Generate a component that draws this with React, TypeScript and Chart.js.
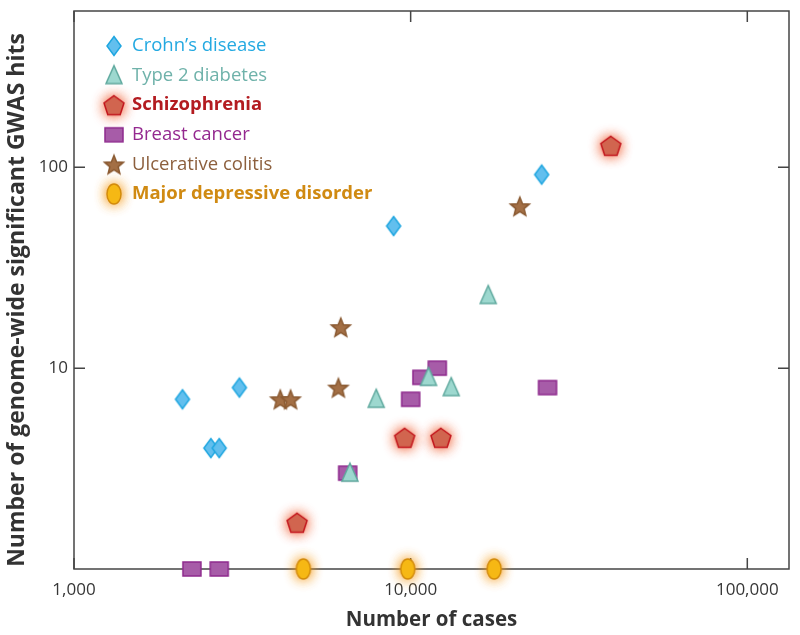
import React, { useEffect, useRef } from 'react';
import { Chart, registerables } from 'chart.js';
Chart.register(...registerables);

const FONT = "'Open Sans', 'Noto Sans', sans-serif";

const seriesNames = [
  'Crohn’s disease',
  'Type 2 diabetes',
  'Schizophrenia',
  'Breast cancer',
  'Ulcerative colitis',
  'Major depressive disorder',
];

const crohnsCases = [2100, 2550, 2700, 3100, 8900, 24500];
const crohnsHits = [7, 4, 4, 8, 51, 92];
const t2dCases = [6600, 7900, 11300, 13200, 17000];
const t2dHits = [3, 7, 9, 8, 23];
const schizoCases = [4600, 9600, 12300, 39300];
const schizoHits = [1.7, 4.5, 4.5, 128];
const breastCases = [2240, 2700, 6500, 10000, 10800, 12000, 25500];
const breastHits = [1, 1, 3, 7, 9, 10, 8];
const ucCases = [4100, 4400, 6100, 6200, 21100];
const ucHits = [7, 7, 8, 16, 64];
const mddCases = [4800, 9800, 17700];
const mddHits = [1, 1, 1];

const xTicks = [1000, 10000, 100000];
const yTicks = [10, 100];

const xTitle = 'Number of cases';
const yTitle = 'Number of genome-wide significant GWAS hits';

type Kind = 'diamond' | 'triangle' | 'pentagon' | 'square' | 'star' | 'ellipse';

const styles: Record<Kind, { fill: string; stroke: string; glow?: string; text: string; bold: boolean }> = {
  diamond: { fill: '#62bfee', stroke: '#1fa6e0', text: '#23a9e1', bold: false },
  triangle: { fill: '#9dd8cf', stroke: '#5fa99e', text: '#6fb2aa', bold: false },
  pentagon: { fill: '#d1654f', stroke: '#c3161d', glow: 'rgba(240,90,45,0.8)', text: '#b31b20', bold: true },
  square: { fill: '#a75ca8', stroke: '#8f2a8d', text: '#94288f', bold: false },
  star: { fill: '#a36f45', stroke: '#8a5a32', text: '#8c5f3d', bold: false },
  ellipse: { fill: '#f6b814', stroke: '#d28b0c', glow: 'rgba(245,150,20,0.85)', text: '#d08a12', bold: true },
};

function tracePath(ctx: CanvasRenderingContext2D, kind: Kind) {
  ctx.beginPath();
  if (kind === 'diamond') {
    ctx.moveTo(0, -9.5);
    ctx.lineTo(7, 0);
    ctx.lineTo(0, 9.5);
    ctx.lineTo(-7, 0);
    ctx.closePath();
  } else if (kind === 'triangle') {
    ctx.moveTo(0, -10);
    ctx.lineTo(8, 8);
    ctx.lineTo(-8, 8);
    ctx.closePath();
  } else if (kind === 'pentagon') {
    const r = 10.5;
    for (let i = 0; i < 5; i++) {
      const a = -Math.PI / 2 + (i * 2 * Math.PI) / 5;
      const px = r * Math.cos(a);
      const py = r * Math.sin(a) + 1;
      if (i === 0) ctx.moveTo(px, py);
      else ctx.lineTo(px, py);
    }
    ctx.closePath();
  } else if (kind === 'square') {
    ctx.rect(-9, -7, 18, 14);
  } else if (kind === 'star') {
    const ro = 10;
    const ri = 4.4;
    for (let i = 0; i < 10; i++) {
      const a = -Math.PI / 2 + (i * Math.PI) / 5;
      const r = i % 2 === 0 ? ro : ri;
      const px = r * Math.cos(a);
      const py = r * Math.sin(a) + 1;
      if (i === 0) ctx.moveTo(px, py);
      else ctx.lineTo(px, py);
    }
    ctx.closePath();
  } else {
    ctx.ellipse(0, 0, 7, 10, 0, 0, Math.PI * 2);
  }
}

function makeMarker(kind: Kind): HTMLCanvasElement {
  const size = 48;
  const c = document.createElement('canvas');
  c.width = size;
  c.height = size;
  const ctx = c.getContext('2d')!;
  ctx.translate(size / 2, size / 2);
  const st = styles[kind];
  if (st.glow) {
    ctx.save();
    ctx.shadowColor = st.glow;
    ctx.shadowBlur = 13;
    tracePath(ctx, kind);
    ctx.fillStyle = st.fill;
    ctx.fill();
    ctx.fill();
    ctx.restore();
  }
  tracePath(ctx, kind);
  ctx.fillStyle = st.fill;
  ctx.fill();
  ctx.lineWidth = 1.5;
  ctx.strokeStyle = st.stroke;
  ctx.stroke();
  return c;
}

const kinds: Kind[] = ['diamond', 'triangle', 'pentagon', 'square', 'star', 'ellipse'];

export default function App() {
  const ref = useRef<HTMLCanvasElement>(null);

  useEffect(() => {
    const markers = kinds.map((k) => makeMarker(k));
    const series = [
      [crohnsCases, crohnsHits],
      [t2dCases, t2dHits],
      [schizoCases, schizoHits],
      [breastCases, breastHits],
      [ucCases, ucHits],
      [mddCases, mddHits],
    ];
    const datasets = series.map(([xs, ys], i) => ({
      label: seriesNames[i],
      data: xs.map((x, j) => ({ x, y: ys[j] })),
      pointStyle: markers[i] as any,
      pointRadius: 10,
      pointHoverRadius: 10,
      clip: false as any,
    }));

    const framePlugin = {
      id: 'frame',
      beforeDatasetsDraw(chart: any) {
        const { ctx, chartArea: a, scales } = chart;
        ctx.save();
        ctx.strokeStyle = '#454545';
        ctx.lineWidth = 1.5;
        ctx.strokeRect(a.left, a.top, a.right - a.left, a.bottom - a.top);
        const tl = 11;
        ctx.beginPath();
        yTicks.forEach((v) => {
          const y = scales.y.getPixelForValue(v);
          ctx.moveTo(a.left, y);
          ctx.lineTo(a.left + tl, y);
          ctx.moveTo(a.right, y);
          ctx.lineTo(a.right - tl, y);
        });
        xTicks.forEach((v) => {
          const x = scales.x.getPixelForValue(v);
          ctx.moveTo(x, a.bottom);
          ctx.lineTo(x, a.bottom - tl);
          ctx.moveTo(x, a.top);
          ctx.lineTo(x, a.top + tl);
        });
        ctx.stroke();
        ctx.restore();
      },
      afterDraw(chart: any) {
        const { ctx, chartArea: a } = chart;
        ctx.save();
        ctx.translate(17, (a.top + a.bottom) / 2 + 10);
        ctx.rotate(-Math.PI / 2);
        ctx.font = `bold 23px ${FONT}`;
        ctx.fillStyle = '#333';
        ctx.textAlign = 'center';
        ctx.textBaseline = 'middle';
        ctx.fillText(yTitle, 0, 0);
        ctx.restore();
      },
    };

    const legendPlugin = {
      id: 'customLegend',
      afterDraw(chart: any) {
        const { ctx, chartArea: a } = chart;
        ctx.save();
        kinds.forEach((k, i) => {
          const cy = a.top + 35 + i * 29.6;
          const mx = a.left + 40;
          const m = markers[i];
          ctx.drawImage(m, mx - m.width / 2, cy - m.height / 2);
          const st = styles[k];
          ctx.font = `${st.bold ? 'bold ' : ''}18.5px ${FONT}`;
          ctx.fillStyle = st.text;
          ctx.textAlign = 'left';
          ctx.textBaseline = 'middle';
          ctx.fillText(seriesNames[i], a.left + 58, cy);
        });
        ctx.restore();
      },
    };

    const chart = new Chart(ref.current!, {
      type: 'scatter',
      data: { datasets: datasets as any },
      options: {
        responsive: false,
        animation: false,
        events: [],
        layout: { padding: { top: 7, right: 9, left: 0, bottom: 0 } },
        plugins: { legend: { display: false }, tooltip: { enabled: false } },
        scales: {
          x: {
            type: 'logarithmic',
            min: 1000,
            max: 133000,
            afterBuildTicks: (s: any) => {
              s.ticks = xTicks.map((v) => ({ value: v }));
            },
            afterFit: (s: any) => {
              s.height = 66;
              s.paddingLeft = 0;
              s.paddingRight = 0;
            },
            grid: { display: false, drawTicks: false },
            border: { display: false },
            ticks: {
              autoSkip: false,
              maxRotation: 0,
              padding: 11,
              color: '#363636',
              font: { family: FONT, size: 17 },
              callback: (v: any) => Number(v).toLocaleString('en-US'),
            },
            title: {
              display: true,
              text: xTitle,
              color: '#333',
              font: { family: FONT, size: 20.5, weight: 'bold' },
              padding: { top: 0, bottom: 3 },
            },
          },
          y: {
            type: 'logarithmic',
            min: 1,
            max: 600,
            afterBuildTicks: (s: any) => {
              s.ticks = yTicks.map((v) => ({ value: v }));
            },
            afterFit: (s: any) => {
              s.width = 74;
              s.paddingTop = 0;
              s.paddingBottom = 0;
            },
            grid: { display: false, drawTicks: false },
            border: { display: false },
            ticks: {
              autoSkip: false,
              padding: 6,
              color: '#363636',
              font: { family: FONT, size: 17 },
              callback: (v: any) => Number(v).toLocaleString('en-US'),
            },
            title: { display: false },
          },
        },
      } as any,
      plugins: [framePlugin, legendPlugin],
    });
    return () => chart.destroy();
  }, []);

  return (
    <div style={{ position: 'fixed', left: 0, top: 0, width: 800, height: 635, background: '#fff' }}>
      <canvas ref={ref} width={800} height={635} style={{ display: 'block', width: 800, height: 635 }} />
    </div>
  );
}
